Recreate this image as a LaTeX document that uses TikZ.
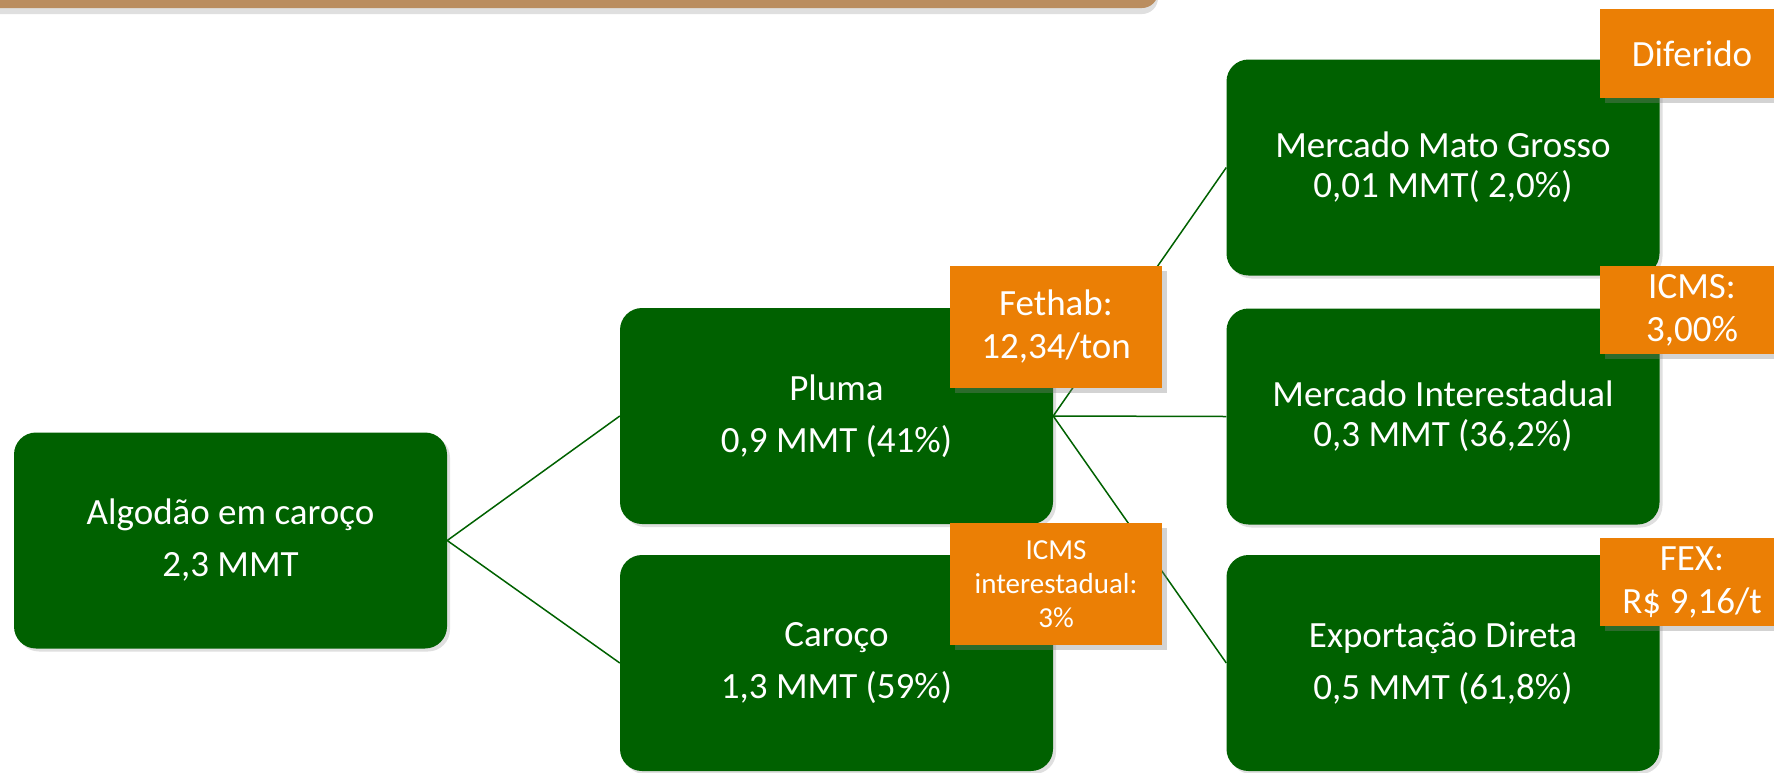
\documentclass[tikz,border=0pt]{standalone}
\usepackage{fontspec}
\setmainfont{Carlito}
\usetikzlibrary{shadows}
\definecolor{leafgreen}{RGB}{0,97,0}
\definecolor{taxorange}{RGB}{235,127,5}
\definecolor{barbrown}{RGB}{186,141,95}

\begin{document}
\begin{tikzpicture}[x=1pt,y=-1pt]
\tikzstyle{stage}=[rectangle,rounded corners=22pt,fill=leafgreen,text=white,minimum width=433pt,minimum height=216pt,inner sep=0pt,align=center,font=\fontsize{37}{52}\selectfont,drop shadow={shadow xshift=3pt,shadow yshift=-3pt,opacity=0.25}]
\tikzstyle{tax}=[rectangle,fill=taxorange,text=white,inner sep=0pt,align=center,font=\fontsize{37}{43}\selectfont,drop shadow={shadow xshift=5pt,shadow yshift=-5pt,opacity=0.35}]
\tikzstyle{edge}=[draw,leafgreen,line width=1.5pt]
\useasboundingbox (0,0) rectangle (1774,772);
% title bar at the top
\fill[barbrown,rounded corners=16pt,drop shadow={shadow xshift=0pt,shadow yshift=-6pt,opacity=0.25}] (-40,-60) rectangle (1158,8);
% stages
\node[stage] (alg) at (230.5,540.5) {Algodão em caroço\\2,3 MMT};
\node[stage] (pluma) at (836.5,416) {Pluma\\0,9 MMT (41\%)};
\node[stage] (caroco) at (836.5,663) {Caroço\\1,3 MMT (59\%)};
\node[stage,font=\fontsize{37}{40}\selectfont] (mato) at (1443,167.5) {Mercado Mato Grosso\\0,01 MMT( 2,0\%)};
\node[stage,font=\fontsize{37}{40}\selectfont] (inter) at (1443,416.5) {Mercado Interestadual\\0,3 MMT (36,2\%)};
\node[stage] (expo) at (1443,663) {Exportação Direta\\0,5 MMT (61,8\%)};
% links
\path[edge] (alg.east) -- (pluma.west);
\path[edge] (alg.east) -- (caroco.west);
\path[edge] (pluma.east) -- (mato.west);
\path[edge] (pluma.east) -- (inter.west);
\path[edge] (pluma.east) -- (expo.west);
% taxes
\node[tax,minimum width=212pt,minimum height=122pt] (fethab) at (1056,327) {Fethab:\\12,34/ton};
\node[tax,minimum width=212pt,minimum height=122pt,font=\fontsize{29}{34}\selectfont] (icmsint) at (1056,584) {ICMS\\interestadual:\\3\%};
\node[tax,minimum width=184pt,minimum height=89pt] (dif) at (1692,53.5) {Diferido};
\node[tax,minimum width=184pt,minimum height=88pt] (icms) at (1692,310) {ICMS:\\3,00\%};
\node[tax,minimum width=184pt,minimum height=88pt] (fex) at (1692,582) {FEX:\\R\$ 9,16/t};
\end{tikzpicture}
\end{document}
